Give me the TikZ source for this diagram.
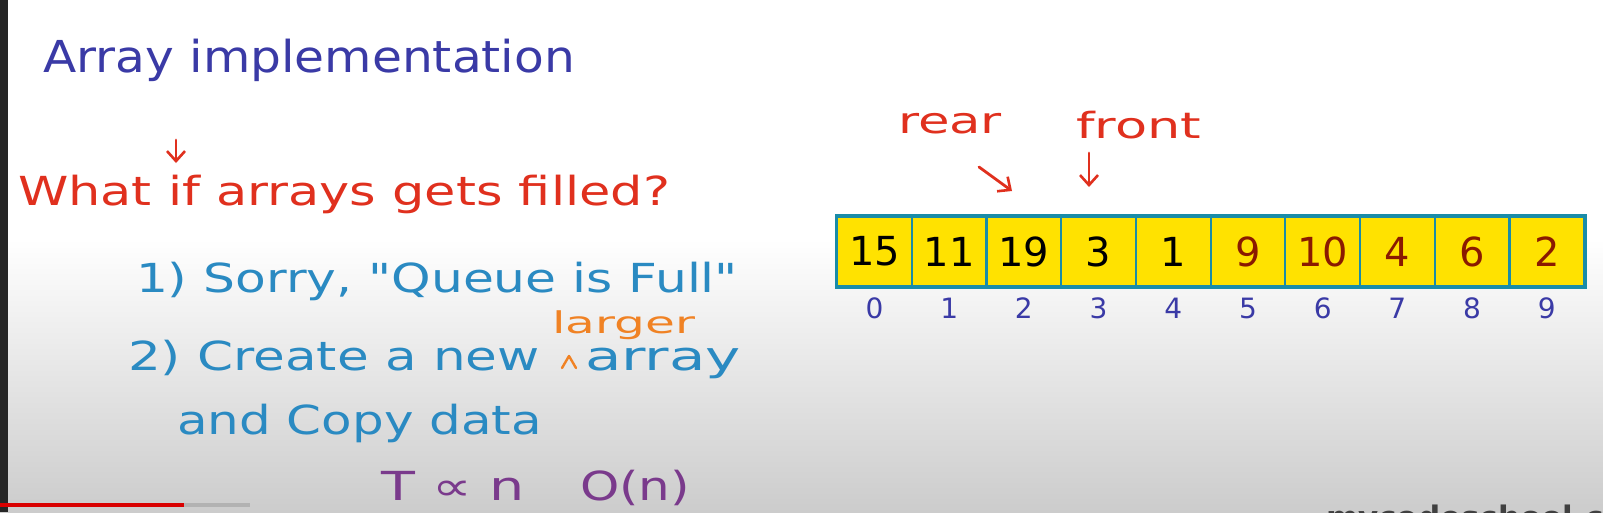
\documentclass[tikz,border=0pt]{standalone}
\usepackage{fontspec}
\usepackage{graphicx}
\setmainfont{DejaVu Sans}[Ligatures=TeXOff]
\usetikzlibrary{arrows.meta}
\definecolor{tblue}{HTML}{3A3AA6}
\definecolor{tred}{HTML}{E0301E}
\definecolor{tteal}{HTML}{2A8AC2}
\definecolor{torange}{HTML}{F08224}
\definecolor{tpurple}{HTML}{7A3A8C}
\definecolor{cellbd}{HTML}{1A8CA8}
\definecolor{cellfill}{HTML}{FFE200}
\definecolor{numred}{HTML}{8A1A00}
\newcommand\hw[2]{\resizebox{#1}{\height}{#2}}
\newcommand\fs[1]{\fontsize{#1}{#1}\selectfont}
\tikzset{
  txt/.style={anchor=base west, inner sep=0pt, outer sep=0pt},
  hand/.style={-{Straight Barb[length=10pt,width=18pt,line width=2.6pt]}, line width=2.8pt, line cap=round},
  cellbox/.style={draw=cellbd, line width=2.2pt, fill=cellfill, minimum width=74.7pt, minimum height=69pt, inner sep=0pt, anchor=west, font=\fs{40}},
  idx/.style={anchor=base, inner sep=0pt, text=tblue, font=\fs{28}},
}
\begin{document}
\begin{tikzpicture}[x=1pt,y=-1pt]
\useasboundingbox (0,0) rectangle (1603,512);
% background
\fill[white] (0,0) rectangle (1603,240);
\shade[top color=white, bottom color=black!20] (0,239) rectangle (1603,512);
\fill[black!85] (0,0) rectangle (8,512);
% progress bar
\fill[black!30] (184,503) rectangle (250,507);
\fill[red!85!black] (0,503) rectangle (184,507);
% watermark
\begin{scope}
\clip (0,0) rectangle (1603,512);
\node[txt, text=black!75, font=\fs{31}\bfseries] (wm) at (1326,528) {mycodeschool.com};
\end{scope}
% left text
\node[txt, text=tblue, font=\fs{44}] (title) at (43,72) {\hw{532pt}{Array implementation}};
\coordinate (a1) at (176,140);
\coordinate (a2) at (176,163);
\draw[hand, tred] (a1) -- (a2);
\node[txt, text=tred, font=\fs{40}] (q) at (18,205) {\hw{652pt}{What if arrays gets filled?}};
\node[txt, text=tteal, font=\fs{40}] (l1) at (136,292) {\hw{602pt}{1) Sorry, "Queue is Full"}};
\node[txt, text=torange, font=\fs{30}] (lg) at (552,333) {\hw{143pt}{larger}};
\node[txt, text=tteal, font=\fs{40}] (l2) at (128,370) {\hw{412pt}{2) Create a new}};
\node[txt, text=tteal, font=\fs{40}] (l2b) at (585,370) {\hw{156pt}{array}};
\coordinate (k1) at (562,368);
\coordinate (k2) at (569,356);
\coordinate (k3) at (576,368);
\draw[torange, line width=2.4pt, line cap=round, line join=round] (k1) -- (k2) -- (k3);
\node[txt, text=tteal, font=\fs{40}] (l3) at (177,434) {\hw{365pt}{and Copy data}};
\node[txt, text=tpurple, font=\fs{40}] (l4) at (381,500) {\hw{144pt}{T \symbol{"221D} n}};
\node[txt, text=tpurple, font=\fs{40}] (l4b) at (580,500) {\hw{110pt}{O(n)}};
% array
\foreach \v [count=\i from 0] in {15,11,19,3,1,9,10,4,6,2} {
  \pgfmathsetmacro{\xx}{836+74.7*\i}
  \ifnum\i<5 \def\cc{black}\else\def\cc{numred}\fi
  \node[cellbox, text=\cc] (c\i) at (\xx,251.5) {\v};
  \node[idx] (i\i) at ([yshift=-67pt]c\i.center) {\i};
}
\draw[cellbd, line width=3pt] (c0.north west) rectangle (c9.south east);
% pointers
\node[txt, text=tred, font=\fs{36}] (rear) at (898,133) {\hw{104pt}{rear}};
\node[txt, text=tred, font=\fs{36}] (front) at (1076,138) {\hw{125pt}{front}};
\coordinate (r1) at (979,167);
\coordinate (r2) at (1012,191);
\draw[hand, tred] (r1) -- (r2);
\coordinate (f1) at (1089,153);
\coordinate (f2) at (1089,187);
\draw[hand, tred] (f1) -- (f2);
\end{tikzpicture}
\end{document}
